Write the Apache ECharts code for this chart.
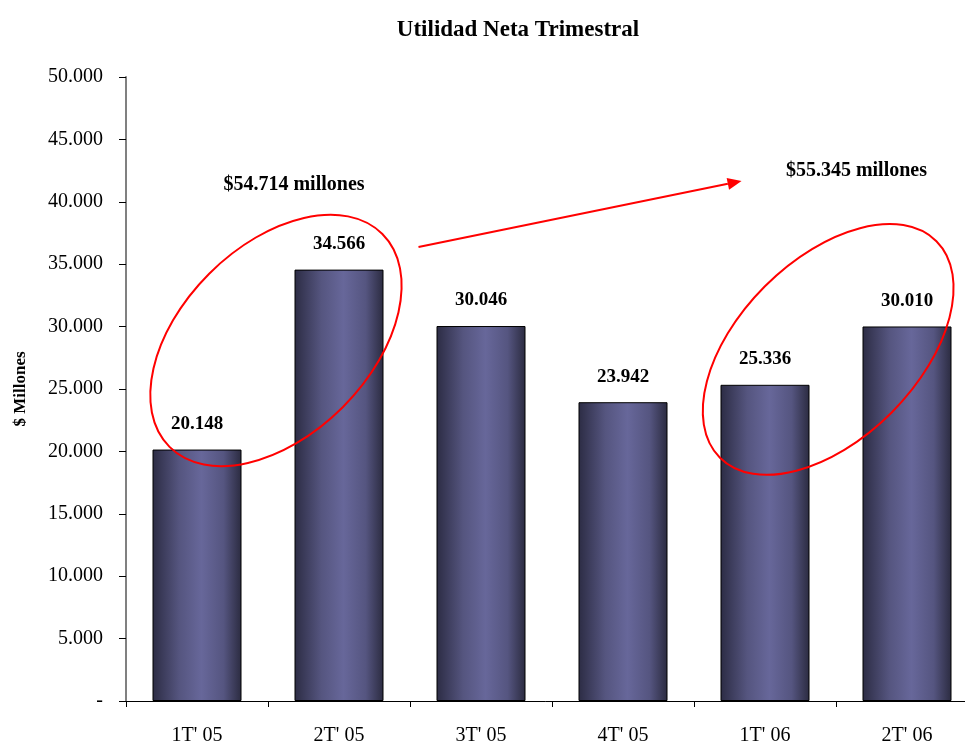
<!DOCTYPE html>
<html>
<head>
<meta charset="utf-8">
<script src="https://cdn.jsdelivr.net/npm/echarts@6/dist/echarts.min.js"></script>
<style>
  html, body { margin: 0; padding: 0; background: #fff; }
  #chart { width: 965px; height: 742px; }
</style>
</head>
<body>
<div id="chart"></div>
<script>
// Quarterly net income, millions of pesos
const categories = ["1T' 05", "2T' 05", "3T' 05", "4T' 05", "1T' 06", "2T' 06"];
const utilidad = [20148, 34566, 30046, 23942, 25336, 30010];

// Value axis range and step
const yMin = 0;
const yMax = 50000;
const yStep = 5000;

// Semester totals shown above the grouped pairs
const totalesSemestre = ['$54.714 millones', '$55.345 millones'];

const FONT = '"Liberation Serif", "DejaVu Serif", serif';

function fmtMiles(v) {
  if (v === 0) return '-';
  return String(Math.round(v)).replace(/\B(?=(\d{3})+(?!\d))/g, '.');
}

const chart = echarts.init(document.getElementById('chart'), null, { renderer: 'canvas' });

const barGradient = new echarts.graphic.LinearGradient(0, 0, 1, 0, [
  { offset: 0.0, color: '#2c2c44' },
  { offset: 0.3, color: '#55557f' },
  { offset: 0.55, color: '#67679a' },
  { offset: 0.8, color: '#555580' },
  { offset: 1.0, color: '#2b2b40' }
]);

chart.setOption({
  backgroundColor: '#ffffff',
  animation: false,
  title: {
    text: 'Utilidad Neta Trimestral',
    left: 513,
    textAlign: 'center',
    top: 14,
    textStyle: { fontFamily: FONT, fontSize: 23, fontWeight: 'bold', color: '#000' }
  },
  grid: { left: 126, top: 77, width: 852, height: 624, containLabel: false, outerBoundsMode: 'none' },
  xAxis: {
    type: 'category',
    data: categories,
    axisLine: { lineStyle: { color: '#000', width: 1 } },
    axisTick: { show: true, length: 6, inside: false, lineStyle: { color: '#000' } },
    axisLabel: { margin: 25, fontFamily: FONT, fontSize: 20, color: '#000' }
  },
  yAxis: {
    type: 'value',
    min: yMin,
    max: yMax,
    interval: yStep,
    name: '$ Millones',
    nameLocation: 'middle',
    nameGap: 97,
    nameRotate: 90,
    nameTextStyle: { fontFamily: FONT, fontSize: 17, fontWeight: 'bold', color: '#000' },
    splitLine: { show: false },
    axisLine: { show: true, lineStyle: { color: '#808080', width: 2 } },
    axisTick: { show: true, length: 7, lineStyle: { color: '#000' } },
    axisLabel: { margin: 23, fontFamily: FONT, fontSize: 20, color: '#000', formatter: fmtMiles }
  },
  series: [{
    type: 'bar',
    data: utilidad,
    barWidth: 89,
    itemStyle: { color: barGradient, borderColor: '#000', borderWidth: 1 },
    label: {
      show: true,
      position: 'top',
      distance: 16,
      fontFamily: FONT,
      fontSize: 19,
      fontWeight: 'bold',
      color: '#000',
      formatter: p => fmtMiles(p.value)
    }
  }]
});

// Map a fractional category position and a value onto the grid
function toPx(c, v) {
  const p0 = chart.convertToPixel({ gridIndex: 0 }, [0, v]);
  const p1 = chart.convertToPixel({ gridIndex: 0 }, [1, v]);
  return [p0[0] + c * (p1[0] - p0[0]), p0[1]];
}
const step = toPx(1, 0)[0] - toPx(0, 0)[0];

// Ellipses around each semester's pair of bars
const grupos = [
  { c: 0.556, v: 28890, rx: 1.06, ry: 0.665 },
  { c: 4.445, v: 28170, rx: 1.078, ry: 0.63 }
];
// Semester total captions
const rotulos = [
  { c: 0.683, v: 41350, text: totalesSemestre[0] },
  { c: 4.644, v: 42470, text: totalesSemestre[1] }
];
// Growth arrow between the two semesters
const flecha = { from: [1.56, 36380], to: [3.835, 41670] };

const graphics = [];
grupos.forEach(g => {
  const p = toPx(g.c, g.v);
  graphics.push({
    type: 'ellipse',
    x: p[0], y: p[1],
    rotation: Math.PI / 4,
    shape: { cx: 0, cy: 0, rx: g.rx * step, ry: g.ry * step },
    style: { fill: null, stroke: '#ff0000', lineWidth: 2 },
    z: 100
  });
});
rotulos.forEach(r => {
  const p = toPx(r.c, r.v);
  graphics.push({
    type: 'text',
    x: p[0], y: p[1],
    style: {
      text: r.text,
      fill: '#000',
      font: 'bold 20px ' + FONT,
      textAlign: 'center',
      textVerticalAlign: 'middle'
    },
    z: 100
  });
});
{
  const a = toPx(flecha.from[0], flecha.from[1]);
  const b = toPx(flecha.to[0], flecha.to[1]);
  const ang = Math.atan2(b[1] - a[1], b[0] - a[0]);
  const len = 14, half = 6;
  const bx = b[0] - len * Math.cos(ang), by = b[1] - len * Math.sin(ang);
  graphics.push({
    type: 'line',
    shape: { x1: a[0], y1: a[1], x2: bx, y2: by },
    style: { stroke: '#ff0000', lineWidth: 2 },
    z: 100
  });
  graphics.push({
    type: 'polygon',
    shape: { points: [
      [b[0], b[1]],
      [bx + half * Math.sin(ang), by - half * Math.cos(ang)],
      [bx - half * Math.sin(ang), by + half * Math.cos(ang)]
    ] },
    style: { fill: '#ff0000' },
    z: 100
  });
}
chart.setOption({ graphic: graphics });
</script>
</body>
</html>
